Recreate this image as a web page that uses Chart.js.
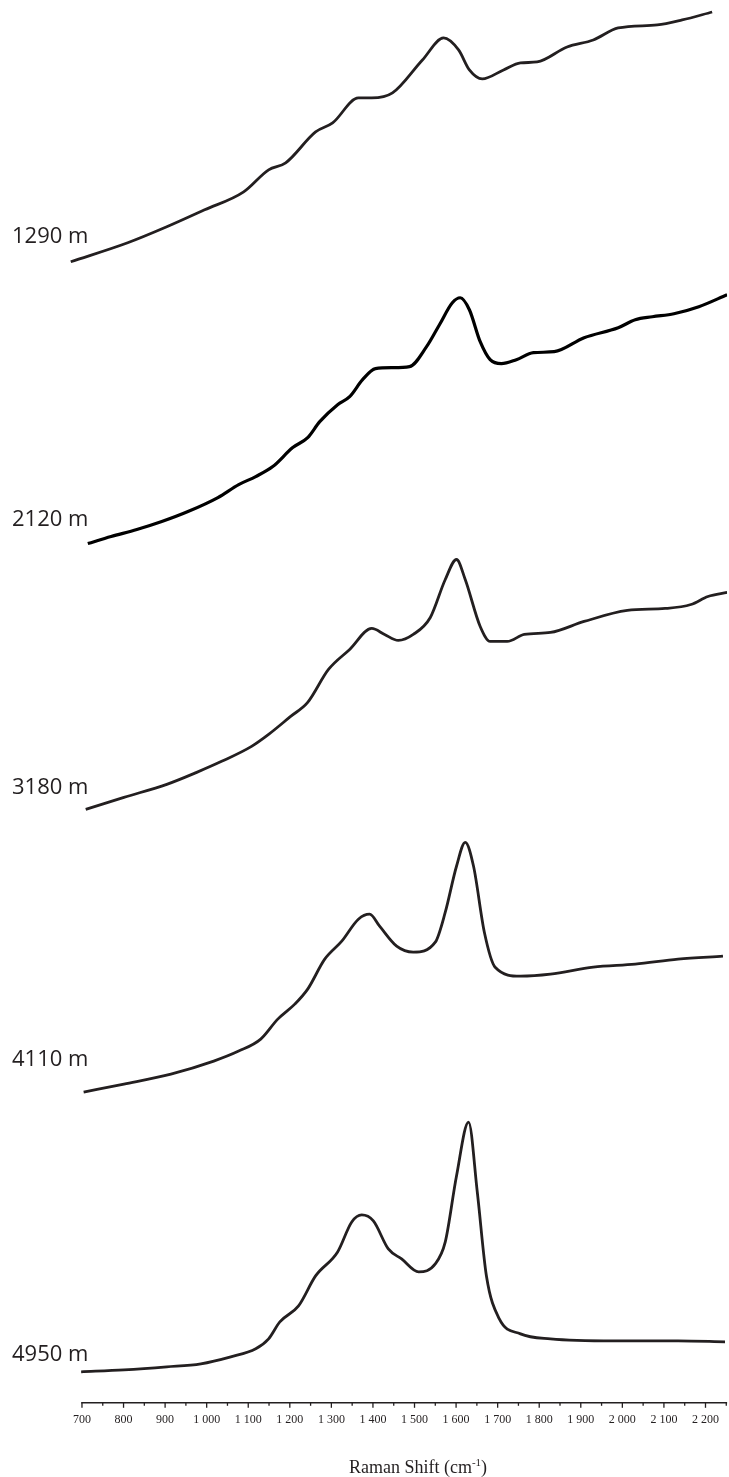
<!DOCTYPE html>
<html>
<head>
<meta charset="utf-8">
<script src="https://cdn.jsdelivr.net/npm/chart.js@4/dist/chart.umd.min.js"></script>
<style>
  html, body { margin: 0; padding: 0; background: #fff; }
  #wrap { width: 729px; height: 1477px; position: relative; }
</style>
</head>
<body>
<div id="wrap"><canvas id="chart"></canvas></div>
<script>
// Espectros Raman apilados por profundidad (cuentas ya desplazadas para apilar).
const DEPTHS = ["1290 m", "2120 m", "3180 m", "4110 m", "4950 m"];

const SHIFT_1290 = [673, 810, 904, 995, 1089, 1149, 1190, 1262, 1303, 1365, 1397, 1447, 1519, 1570, 1606, 1632, 1663, 1714, 1755, 1795, 1867, 1930, 1990, 2084, 2144, 2216];
const COUNTS_1290 = [1142, 1161, 1177, 1194, 1212, 1234, 1241, 1272, 1281, 1306, 1306, 1311, 1344, 1366, 1354, 1334, 1325, 1334, 1341, 1342, 1357, 1364, 1376, 1379, 1384, 1392];

const SHIFT_2120 = [714, 770, 832, 892, 955, 1027, 1077, 1118, 1159, 1207, 1243, 1272, 1315, 1344, 1375, 1406, 1447, 1488, 1529, 1560, 1591, 1610, 1632, 1658, 1682, 1709, 1745, 1786, 1836, 1908, 1990, 2031, 2072, 2124, 2184, 2252];
const COUNTS_2120 = [860, 867, 874, 882, 892, 906, 919, 927, 937, 956, 966, 982, 999, 1007, 1024, 1035, 1036, 1037, 1057, 1079, 1101, 1106, 1094, 1062, 1044, 1040, 1044, 1051, 1052, 1066, 1076, 1084, 1087, 1090, 1097, 1109];

const SHIFT_3180 = [709, 801, 904, 976, 1036, 1108, 1149, 1202, 1243, 1293, 1344, 1397, 1428, 1461, 1497, 1538, 1574, 1601, 1622, 1658, 1682, 1723, 1764, 1827, 1908, 2012, 2103, 2165, 2206, 2252];
const COUNTS_3180 = [594, 606, 619, 631, 642, 657, 669, 687, 701, 734, 754, 775, 769, 763, 769, 786, 824, 844, 824, 777, 762, 762, 769, 771, 782, 793, 795, 799, 807, 811];

const SHIFT_4110 = [704, 801, 914, 1017, 1077, 1130, 1171, 1212, 1243, 1284, 1325, 1365, 1392, 1416, 1457, 1497, 1550, 1574, 1601, 1622, 1642, 1668, 1694, 1755, 1827, 1930, 2031, 2134, 2242];
const COUNTS_4110 = [311, 319, 329, 342, 352, 364, 384, 399, 414, 444, 462, 484, 489, 477, 457, 451, 461, 491, 537, 561, 537, 471, 436, 427, 429, 436, 439, 444, 447];

const SHIFT_4950 = [698, 801, 904, 986, 1058, 1118, 1149, 1176, 1221, 1262, 1315, 1349, 1373, 1401, 1437, 1469, 1510, 1550, 1574, 1601, 1630, 1651, 1673, 1704, 1755, 1827, 1980, 2134, 2247];
const COUNTS_4950 = [31, 33, 36, 39, 46, 54, 64, 81, 97, 127, 151, 181, 188, 182, 154, 144, 131, 139, 161, 227, 281, 211, 127, 84, 69, 64, 62, 62, 61];

// Ejes
const TICK_VALUES = [700, 800, 900, 1000, 1100, 1200, 1300, 1400, 1500, 1600, 1700, 1800, 1900, 2000, 2100, 2200];
const TICK_LABELS = ["700", "800", "900", "1 000", "1 100", "1 200", "1 300", "1 400", "1 500", "1 600", "1 700", "1 800", "1 900", "2 000", "2 100", "2 200"];
const MINOR_TICKS = [750, 850, 950, 1050, 1150, 1250, 1350, 1450, 1550, 1650, 1750, 1850, 1950, 2050, 2150, 2250];
const X_TITLE = "Raman Shift (cm";
const X_TITLE_SUP = "-1";

const SERIES = [
  [SHIFT_1290, COUNTS_1290],
  [SHIFT_2120, COUNTS_2120],
  [SHIFT_3180, COUNTS_3180],
  [SHIFT_4110, COUNTS_4110],
  [SHIFT_4950, COUNTS_4950],
];

// Altura (en unidades del eje y) de la línea base de cada rótulo
const LABEL_Y = [1161, 878, 609, 337, 42];

const INK = "#231f20";
const SERIF = "'Liberation Serif', 'Times New Roman', serif";

const decoraciones = {
  id: "decoraciones",
  afterDraw(chart) {
    const { ctx, chartArea, scales: { x, y } } = chart;
    const base = chartArea.bottom;
    ctx.save();
    ctx.strokeStyle = INK;
    ctx.lineWidth = 1.6;
    ctx.beginPath();
    ctx.moveTo(x.getPixelForValue(700) - 0.8, base);
    ctx.lineTo(x.getPixelForValue(2252), base);
    ctx.stroke();
    ctx.lineWidth = 1.3;
    TICK_VALUES.forEach(v => {
      const px = x.getPixelForValue(v);
      ctx.beginPath(); ctx.moveTo(px, base); ctx.lineTo(px, base + 5); ctx.stroke();
    });
    MINOR_TICKS.forEach(v => {
      const px = x.getPixelForValue(v);
      ctx.beginPath(); ctx.moveTo(px, base); ctx.lineTo(px, base + 3); ctx.stroke();
    });

    // rótulos de profundidad
    ctx.fillStyle = INK;
    ctx.font = "22px 'Open Sans', sans-serif";
    ctx.textAlign = "left";
    ctx.textBaseline = "alphabetic";
    DEPTHS.forEach((d, i) => ctx.fillText(d, 12, y.getPixelForValue(LABEL_Y[i])));

    // título del eje x con superíndice
    ctx.font = "18px " + SERIF;
    const w1 = ctx.measureText(X_TITLE).width;
    ctx.font = "11px " + SERIF;
    const w2 = ctx.measureText(X_TITLE_SUP).width;
    ctx.font = "18px " + SERIF;
    const w3 = ctx.measureText(")").width;
    let tx = 418 - (w1 + w2 + w3) / 2;
    const ty = 1473;
    ctx.fillText(X_TITLE, tx, ty);
    tx += w1;
    ctx.font = "11px " + SERIF;
    ctx.fillText(X_TITLE_SUP, tx, ty - 7);
    tx += w2;
    ctx.font = "18px " + SERIF;
    ctx.fillText(")", tx, ty);
    ctx.restore();
  },
};

new Chart(document.getElementById("chart"), {
  type: "line",
  data: {
    datasets: SERIES.map(([sx, sy], i) => ({
      label: DEPTHS[i],
      data: sx.map((v, j) => ({ x: v, y: sy[j] })),
      borderColor: i === 1 ? "#000" : INK,
      borderWidth: i === 1 ? 3.2 : 2.8,
      pointRadius: 0,
      cubicInterpolationMode: "monotone",
      fill: false,
    })),
  },
  options: {
    responsive: true,
    maintainAspectRatio: false,
    animation: false,
    events: [],
    layout: { padding: { left: 68.67, right: 0.33, top: 0, bottom: 39.8 } },
    plugins: { legend: { display: false }, tooltip: { enabled: false } },
    scales: {
      x: {
        type: "linear",
        min: 668,
        max: 2252,
        afterBuildTicks: axis => { axis.ticks = TICK_VALUES.map(v => ({ value: v })); },
        grid: { display: false, drawTicks: false },
        border: { display: false },
        ticks: {
          padding: 10,
          color: INK,
          maxRotation: 0,
          autoSkip: false,
          font: { family: SERIF, size: 12 },
          callback: v => TICK_LABELS[TICK_VALUES.indexOf(v)],
        },
      },
      y: { display: false, min: 0, max: 1404 },
    },
  },
  plugins: [decoraciones],
});
</script>
</body>
</html>
